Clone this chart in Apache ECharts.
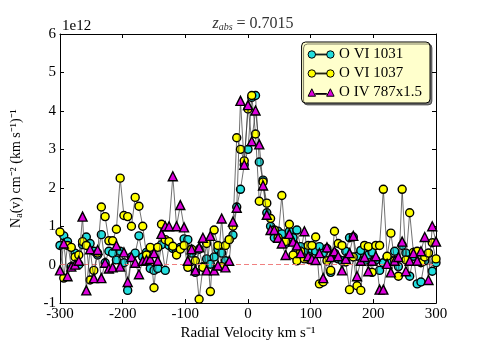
<!DOCTYPE html>
<html lang="en" style="height: 100%">
<head>
  <meta charset="utf-8">
  <title>O VI / O IV apparent column density</title>
  <script src="https://cdn.jsdelivr.net/npm/echarts@6/dist/echarts.min.js"></script>
</head>
<body style="height: 100%; margin: 0; background: #fff;">
  <div id="container" style="width: 485px; height: 346px;"></div>
  <script type="text/javascript">
    // radial velocity grid (km/s)
    var velocity = [
      -300, -294, -288, -282, -276, -270, -264, -258, -252, -246,
      -240, -234, -228, -222, -216, -210, -204, -198, -192, -186,
      -180, -174, -168, -162, -156, -150, -144, -138, -132, -126,
      -120, -114, -108, -102, -96, -90, -84, -78, -72, -66,
      -60, -54, -48, -42, -36, -30, -24, -18, -12, -6,
      0, 6, 12, 18, 24, 30, 36, 42, 48, 54,
      60, 66, 72, 78, 84, 90, 96, 102, 108, 114,
      120, 126, 132, 138, 144, 150, 156, 162, 168, 174,
      180, 186, 192, 198, 204, 210, 216, 222, 228, 234,
      240, 246, 252, 258, 264, 270, 276, 282, 288, 294, 300
    ];

    // N_a(v) in units of 1e12 cm^-2 (km/s)^-1
    var ovi1031 = [
      0.5, 0.75, 0.6, -0.05, 0.3, 0.0, 0.52, 0.72, 0.55, 0.35,
      0.25, 0.78, 0.05, 0.35, 0.3, 0.12, 0.35, 0.05, -0.67, 0.2,
      0.3, 0.75, 0.2, 0.32, -0.1, -0.15, -0.1, 0.52, -0.15, 0.5,
      0.42, 0.35, 0.45, 0.67, 0.65, 0.3, -0.2, 0.4, -0.05, 0.15,
      0.01, 0.2, 0.4, 0.3, 0.1, 0.65, 0.77, 1.5, 1.96, 2.6,
      3.0, 4.35, 4.4, 2.67, 2.2, 1.35, 1.0, 0.7, 0.87, 0.8,
      0.55, 0.87, 0.7, 0.9, 0.47, 0.3, 0.35, 0.4, 0.35, 0.47,
      0.3, 0.42, -0.2, 0.3, 0.15, 0.1, 0.35, 0.7, 0.72, 0.22,
      0.37, 0.1, 0.25, 0.32, 0.12, -0.15, 0.05, 0.2, 0.1, 0.35,
      -0.05, 0.5, 0.3, -0.3, 0.22, -0.5, -0.45, 0.1, 0.3, -0.17, 0.05
    ];
    var ovi1037 = [
      0.85, -0.35, 0.5, 0.45, 0.2, 0.25, 0.6, 0.5, -0.4, -0.15,
      0.3, 1.5, 1.25, 0.62, 0.62, 0.92, 2.25, 1.28, 1.25, 1.0,
      1.75, 1.52, 1.0, 0.25, 0.45, -0.6, 0.45, 1.05, 0.65, 0.6,
      0.48, 0.25, 0.4, 0.5, -0.07, 0.4, 0.1, -0.9, -0.07, 0.55,
      -0.7, 0.9, 0.5, -0.05, 0.5, 0.65, 1.0, 3.3, 3.0, 2.7,
      4.05, 4.4, 3.4, 1.65, 2.15, 1.6, 1.2, 0.9, 0.7, 1.8,
      0.6, 1.05, 0.25, 0.1, 0.35, 0.15, 0.5, 0.5, 0.72, -0.5,
      -0.45, 0.1, -0.15, 0.87, 0.55, 0.5, 0.07, -0.65, 0.2, -0.55,
      -0.67, 0.5, 0.47, -0.2, 0.5, 0.5, 1.96, 0.22, 0.82, 0.1,
      -0.3, 1.96, 0.12, 1.35, 0.32, 0.35, 0.05, 0.2, 0.3, 0.57, 0.15
    ];
    var oiv787 = [
      -0.15, 0.55, -0.3, -0.05, 0.0, 0.1, 1.25, -0.67, 0.4, -0.35,
      0.38, -0.35, 0.05, -0.1, -0.07, 0.5, -0.05, 0.32, -0.45, 0.2,
      0.05, -0.25, 0.1, 0.12, 0.15, 0.3, 0.1, 0.8, 1.0, 1.0,
      2.3, 1.0, 1.55, 0.97, 0.1, 0.4, -0.15, 0.45, 0.7, -0.15,
      0.75, -0.15, -0.02, 1.2, -0.07, 0.1, 1.12, 1.48, 4.26, 2.6,
      4.15, 3.21, 4.01, 3.13, 2.06, 1.3, 0.9, 0.9, 0.7, 0.55,
      0.25, 0.8, 0.6, 0.5, 0.3, 0.87, 0.22, 0.15, 0.12, 0.3,
      -0.35, 0.45, 0.2, 0.35, 0.22, -0.15, 0.15, 0.3, 0.75, -0.3,
      0.1, 0.2, -0.17, 0.1, 0.22, -0.65, -0.65, 0.02, -0.2, 0.1,
      0.2, 0.6, -0.17, 0.1, 0.3, 0.1, 0.35, 0.72, -0.4, 1.0, 0.6
    ];

    var seriesNames = ['O VI 1031', 'O VI 1037', 'O IV 787x1.5'];
    var seriesColors = ['#22dddd', '#ffff00', '#dd00dd'];
    var xTicks = { min: -300, max: 300, step: 100 };
    var yTicks = { min: -1, max: 6, step: 1 };

    var circleIcon = 'path://M1,5 A4,4 0 1,1 9,5 A4,4 0 1,1 1,5 Z M21,5 A4,4 0 1,1 29,5 A4,4 0 1,1 21,5 Z M9,4.6 L21,4.6 L21,5.4 L9,5.4 Z';
    var triIcon = 'path://M1,9 L5,1 L9,9 Z M21,9 L25,1 L29,9 Z M9,6.1 L21,6.1 L21,6.9 L9,6.9 Z';

    function pairs(vals) {
      return velocity.map(function (v, i) { return [v, vals[i]]; });
    }

    var font = 'Liberation Serif';
    var dom = document.getElementById('container');
    var myChart = echarts.init(dom, null, { renderer: 'canvas' });

    function makeSeries(idx, vals, symbol, size) {
      return {
        name: seriesNames[idx],
        type: 'line',
        data: pairs(vals),
        symbol: symbol,
        symbolSize: size,
        showAllSymbol: true,
        z: 3 + idx,
        lineStyle: { color: '#333', width: 0.7 },
        itemStyle: { color: seriesColors[idx], borderColor: '#000', borderWidth: 1.4 },
        emphasis: { disabled: true }
      };
    }

    var axisCommon = {
      type: 'value',
      splitLine: { show: false },
      axisLine: { show: true, onZero: false, lineStyle: { color: '#000', width: 1 } },
      axisTick: { show: true, inside: true, length: 4, lineStyle: { color: '#000' } }
    };

    var option = {
      animation: false,
      backgroundColor: '#fff',
      textStyle: { fontFamily: font },
      title: {
        text: '{i|z}{s|abs}{n| = 0.7015}',
        left: 248,
        textAlign: 'center',
        top: 11,
        textStyle: {
          fontWeight: 'normal',
          rich: {
            i: { fontFamily: font, fontStyle: 'italic', fontWeight: 'normal', fontSize: 16, color: '#333' },
            s: { fontFamily: font, fontStyle: 'italic', fontWeight: 'normal', fontSize: 10, color: '#333', verticalAlign: 'bottom', padding: [6, 0, 0, 0] },
            n: { fontFamily: font, fontWeight: 'normal', fontSize: 16, color: '#333' }
          }
        }
      },
      legend: {
        orient: 'vertical',
        right: 55,
        top: 42,
        padding: [5, 8, 3, 6],
        itemGap: 4,
        itemWidth: 26,
        itemHeight: 9,
        backgroundColor: '#ffffcc',
        borderColor: '#000',
        borderWidth: 1,
        borderRadius: 4,
        shadowColor: 'rgba(0,0,0,0.5)',
        shadowOffsetX: 2,
        shadowOffsetY: 2,
        shadowBlur: 0,
        textStyle: { fontFamily: font, fontSize: 15, color: '#000' },
        data: [
          { name: seriesNames[0], icon: circleIcon, itemStyle: { borderColor: '#000', borderWidth: 1 } },
          { name: seriesNames[1], icon: circleIcon, itemStyle: { borderColor: '#000', borderWidth: 1 } },
          { name: seriesNames[2], icon: triIcon, itemStyle: { borderColor: '#000', borderWidth: 1 } }
        ]
      },
      grid: { left: 60, right: 49, top: 34, bottom: 35 },
      xAxis: [
        Object.assign({}, axisCommon, {
          position: 'bottom',
          min: xTicks.min, max: xTicks.max, interval: xTicks.step,
          axisLabel: { fontFamily: font, fontSize: 15, color: '#000', margin: 3 },
          name: 'Radial Velocity km s\u207B\u00B9',
          nameLocation: 'middle',
          nameGap: 20,
          nameTextStyle: { fontFamily: font, fontSize: 15, color: '#000' }
        }),
        Object.assign({}, axisCommon, {
          position: 'top',
          min: xTicks.min, max: xTicks.max, interval: xTicks.step,
          axisLabel: { show: false }
        })
      ],
      yAxis: [
        Object.assign({}, axisCommon, {
          position: 'left',
          min: yTicks.min, max: yTicks.max, interval: yTicks.step,
          axisLabel: { fontFamily: font, fontSize: 15, color: '#000', margin: 4 },
          name: '{n|N}{s|a}{n|(v) cm\u207B\u00B2 (km s\u207B\u00B9)\u207B\u00B9}',
          nameLocation: 'middle',
          nameGap: 36,
          nameRotate: 90,
          nameTextStyle: {
            rich: {
              n: { fontFamily: font, fontSize: 14, color: '#000' },
              s: { fontFamily: font, fontSize: 10, color: '#000', verticalAlign: 'bottom', padding: [5, 0, 0, 0] }
            }
          }
        }),
        Object.assign({}, axisCommon, {
          position: 'right',
          min: yTicks.min, max: yTicks.max, interval: yTicks.step,
          axisLabel: { show: false }
        })
      ],
      graphic: [
        {
          type: 'text',
          left: 62,
          top: 19,
          style: { text: '1e12', font: '15px "Liberation Serif"', fill: '#000' }
        }
      ],
      series: [
        {
          name: 'zero',
          type: 'line',
          data: [],
          z: 1,
          silent: true,
          markLine: {
            silent: true,
            symbol: 'none',
            label: { show: false },
            lineStyle: { color: '#f08080', type: [5, 3], width: 1 },
            data: [{ yAxis: 0 }]
          }
        },
        makeSeries(0, ovi1031, 'circle', 8),
        makeSeries(1, ovi1037, 'circle', 8),
        makeSeries(2, oiv787, 'triangle', 9)
      ]
    };

    myChart.setOption(option);
    window.addEventListener('resize', myChart.resize);
  </script>
</body>
</html>
